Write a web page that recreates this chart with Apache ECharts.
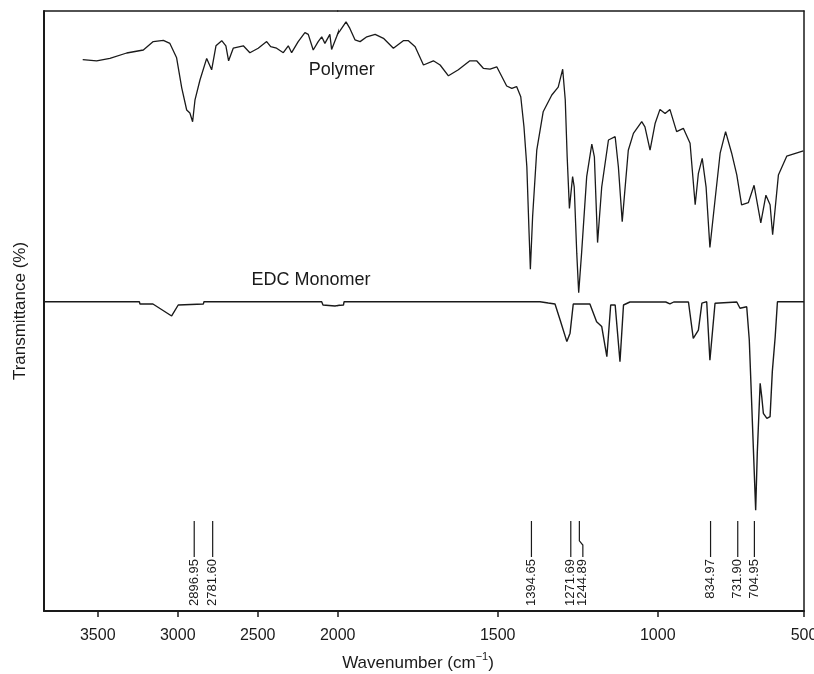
<!DOCTYPE html>
<html>
<head>
<meta charset="utf-8">
<title>Polymer / EDC Monomer IR</title>
<script src="https://cdn.jsdelivr.net/npm/echarts@6/dist/echarts.min.js"></script>
<style>
	html, body { margin: 0; padding: 0; background: #fff; }
	#chart { width: 814px; height: 674px; }
</style>
</head>
<body>
<div id="chart"></div>
<script>
// polymer spectrum (wavenumber, transmittance in arbitrary % units)
var polyWn = [3594,3507,3424,3319,3215,3153,3090,3049,3007,2975,
	2944,2924,2907,2892,2861,2819,2788,2761,2725,2699,
	2682,2653,2590,2549,2497,2444,2419,2382,2340,2309,
	2288,2247,2205,2184,2153,2122,2100,2080,2049,2038,
	2007,1993,1974,1962,1946,1930,1909,1883,1857,1826,
	1795,1779,1758,1732,1701,1680,1654,1623,1587,1566,
	1545,1524,1503,1472,1456,1441,1428,1418,1409,1402,
	1398,1391,1378,1358,1331,1311,1297,1289,1283,1276,
	1266,1261,1253,1247,1238,1222,1206,1198,1188,1175,
	1154,1133,1123,1111,1092,1076,1050,1040,1024,1008,
	993,977,962,941,920,899,883,873,861,849,
	837,821,805,788,769,753,738,717,699,678,
	662,649,641,623,597,545];
var polyT = [91.9,91.7,92.1,93.0,93.5,94.9,95.1,94.6,92.2,87.2,
	83.5,83.0,81.55,85.2,88.5,92.1,90.2,94.2,95.05,94.2,
	91.7,93.8,94.2,93.05,93.8,94.9,94.05,93.8,93.05,94.2,
	93.05,94.9,96.4,96.1,93.5,94.9,95.7,94.6,96.1,93.6,
	95.7,96.7,98.2,97.1,95.2,94.9,95.7,96.1,95.45,93.8,
	95.05,95.05,94.05,91.0,91.7,91.0,89.2,90.2,91.7,91.7,
	90.45,90.3,90.7,87.5,87.1,87.4,85.7,80.7,74.05,62.95,
	56.95,65.7,76.8,83.2,86.0,87.3,90.3,85.2,75.7,67.1,
	72.4,70.7,59.6,53.05,59.6,72.4,77.8,75.7,61.4,70.7,
	78.5,79.05,74.05,64.9,76.8,79.6,81.55,80.7,76.8,81.3,
	83.6,82.9,83.6,79.9,80.45,77.95,67.7,72.95,75.45,70.7,
	60.6,68.5,76.3,79.9,76.3,72.7,67.7,68.05,70.95,64.7,
	69.3,67.7,62.7,72.65,75.8,76.7];

// EDC monomer spectrum
var monoWn = [3836,3240,3236,3155,3038,3028,2997,2840,2836,2510,
	2505,2497,2260,2255,2250,2100,2092,2017,1982,1980,
	1862,1857,1840,1368,1342,1321,1305,1284,1279,1274,
	1264,1212,1191,1175,1159,1147,1133,1118,1107,1087,
	975,962,950,904,899,889,873,862,847,837,
	821,753,743,722,714,708,701,694,689,680,
	675,670,659,649,642,633,626,543];
var monoT = [51.55,51.55,51.17,51.17,49.17,49.3,51.0,51.17,51.55,51.55,
	51.8,51.55,51.55,51.8,51.55,51.55,51.0,50.83,51.0,51.55,
	51.55,51.8,51.55,51.55,51.33,51.17,48.5,44.9,44.6,46.3,
	51.17,51.17,48.2,47.4,42.4,51.0,51.0,41.55,51.0,51.5,
	51.5,51.17,51.5,51.5,51.3,45.45,46.8,51.3,51.55,41.8,
	51.3,51.5,50.45,50.7,45.2,36.8,26.8,16.8,26.3,37.95,
	35.7,32.95,32.1,32.4,39.9,45.7,51.55,51.55];

// marked peaks: where the marker line starts, where its label sits
var peakPos = [2896.95, 2781.6, 1394.65, 1271.69, 1244.89, 834.97, 750, 698];
var peakLabelPos = [2896.95, 2781.6, 1394.65, 1271.69, 1234, 834.97, 750, 698];
var peakLabels = ['2896.95', '2781.60', '1394.65', '1271.69', '1244.89', '834.97', '731.90', '704.95'];

// x axis is split: expanded scale below 2000
var leftTicks = [3500, 3000, 2500];
var rightTicks = [2000, 1500, 1000, 543];
var rightTickLabels = ['2000', '1500', '1000', '500'];

var FONT = '"Liberation Sans", Arial, Helvetica, sans-serif';
var INK = '#1a1a1a';
var peakTop = 15, peakBend = 11.7, peakBendEnd = 11, peakBottom = 9;

function pairs(xs, ys) {
	var out = [];
	for (var i = 0; i < xs.length; i++) out.push([xs[i], ys[i]]);
	return out;
}

var polyData = pairs(polyWn, polyT);
var monoData = pairs(monoWn, monoT);
var peaksLeft = [], peaksRight = [];
peakPos.forEach(function (p, i) {
	if (p >= 2000) peaksLeft.push([p, i, peakLabelPos[i]]);
	else peaksRight.push([p, i, peakLabelPos[i]]);
});

function renderPeak(params, api) {
	var x0 = api.value(0), x1 = api.value(2);
	var pts = [api.coord([x0, peakTop])];
	if (x1 !== x0) {
		pts.push(api.coord([x0, peakBend]));
		pts.push(api.coord([x1, peakBendEnd]));
	}
	var bot = api.coord([x1, peakBottom]);
	pts.push(bot);
	return {
		type: 'group',
		children: [{
			type: 'polyline',
			shape: { points: pts },
			style: { stroke: INK, lineWidth: 1.2, fill: null }
		}, {
			type: 'text',
			x: bot[0],
			y: bot[1] + 2,
			rotation: Math.PI / 2,
			style: {
				text: peakLabels[api.value(1)],
				fontSize: 13,
				fontFamily: FONT,
				fill: INK,
				align: 'right',
				verticalAlign: 'middle'
			}
		}]
	};
}

function bottomAxis(grid, min, max, ticks, fmt) {
	return {
		type: 'value', gridIndex: grid, position: 'bottom',
		min: min, max: max, inverse: true,
		axisLine: { onZero: false, lineStyle: { color: INK, width: 2 } },
		axisTick: { customValues: ticks, length: 6, lineStyle: { color: INK, width: 1.5 } },
		axisLabel: { customValues: ticks, formatter: fmt, fontSize: 16, fontFamily: FONT, color: INK, margin: 17 },
		splitLine: { show: false }
	};
}

function topAxis(grid, min, max) {
	return {
		type: 'value', gridIndex: grid, position: 'top',
		min: min, max: max, inverse: true,
		axisLine: { onZero: false, lineStyle: { color: INK, width: 1.5 } },
		axisTick: { show: false }, axisLabel: { show: false },
		splitLine: { show: false }
	};
}

var option = {
	backgroundColor: '#fff',
	animation: false,
	grid: [
		{ left: 44, top: 11, width: 293.7, bottom: 63, outerBoundsMode: 'none' },
		{ left: 337.7, top: 11, right: 10, bottom: 63, outerBoundsMode: 'none' }
	],
	xAxis: [
		bottomAxis(0, 2000, 3836, leftTicks, function (v) { return String(v); }),
		bottomAxis(1, 543, 2000, rightTicks, function (v) { return rightTickLabels[rightTicks.indexOf(v)]; }),
		topAxis(0, 2000, 3836),
		topAxis(1, 543, 2000)
	],
	yAxis: [{
		type: 'value', gridIndex: 0, min: 0, max: 100,
		name: 'Transmittance (%)', nameLocation: 'middle', nameGap: 15,
		nameTextStyle: { fontSize: 17, fontFamily: FONT, color: INK },
		axisLine: { onZero: false, lineStyle: { color: INK, width: 2 } },
		axisTick: { show: false }, axisLabel: { show: false },
		splitLine: { show: false }
	}, {
		type: 'value', gridIndex: 1, position: 'right', min: 0, max: 100,
		axisLine: { onZero: false, lineStyle: { color: INK, width: 1.5 } },
		axisTick: { show: false }, axisLabel: { show: false },
		splitLine: { show: false }
	}],
	series: [
		{ name: 'Polymer', type: 'line', xAxisIndex: 0, yAxisIndex: 0, data: polyData, showSymbol: false, lineStyle: { color: INK, width: 1.3 } },
		{ name: 'Polymer', type: 'line', xAxisIndex: 1, yAxisIndex: 1, data: polyData, showSymbol: false, lineStyle: { color: INK, width: 1.3 } },
		{ name: 'EDC Monomer', type: 'line', xAxisIndex: 0, yAxisIndex: 0, data: monoData, showSymbol: false, lineStyle: { color: INK, width: 1.4 } },
		{ name: 'EDC Monomer', type: 'line', xAxisIndex: 1, yAxisIndex: 1, data: monoData, showSymbol: false, lineStyle: { color: INK, width: 1.4 } },
		{ type: 'custom', xAxisIndex: 0, yAxisIndex: 0, data: peaksLeft, renderItem: renderPeak, silent: true },
		{ type: 'custom', xAxisIndex: 1, yAxisIndex: 1, data: peaksRight, renderItem: renderPeak, silent: true }
	],
	graphic: [{
		type: 'text', x: 341.7, y: 70,
		style: { text: 'Polymer', fontSize: 18, fontFamily: FONT, fill: INK, align: 'center', verticalAlign: 'middle' }
	}, {
		type: 'text', x: 311, y: 280,
		style: { text: 'EDC Monomer', fontSize: 18, fontFamily: FONT, fill: INK, align: 'center', verticalAlign: 'middle' }
	}, {
		type: 'text', x: 418, y: 663,
		style: {
			text: '{a|Wavenumber (cm}{s|−1}{a|)}',
			align: 'center', verticalAlign: 'middle',
			rich: {
				a: { fontSize: 17, fontFamily: FONT, fill: INK },
				s: { fontSize: 11, fontFamily: FONT, fill: INK, padding: [0, 0, 12, 0] }
			}
		}
	}]
};

var chart = echarts.init(document.getElementById('chart'));
chart.setOption(option);
</script>
</body>
</html>
